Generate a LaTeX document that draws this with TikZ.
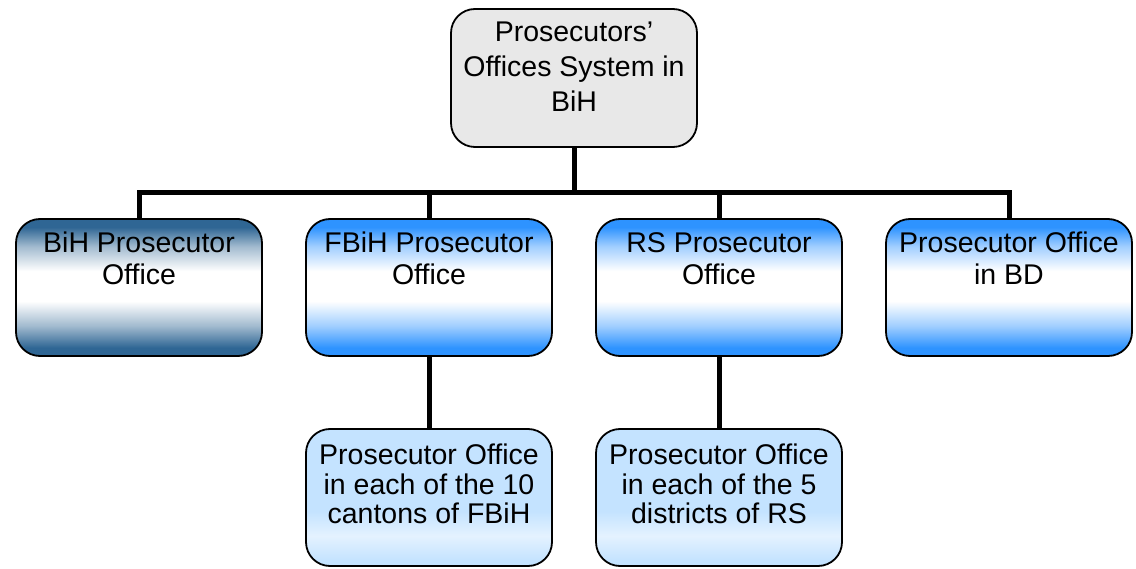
\documentclass[tikz,border=0pt]{standalone}
\usepackage{fontspec}
\setmainfont{Liberation Sans}
\usetikzlibrary{calc}
\definecolor{steel}{HTML}{2F6694}
\definecolor{bblue}{HTML}{2E93FF}
\definecolor{pale}{HTML}{C4E3FF}
\definecolor{palemid}{HTML}{E4F2FF}
\definecolor{topgray}{HTML}{E8E8E8}
\pgfdeclareverticalshading{steelshade}{100bp}{color(0bp)=(steel); color(28bp)=(steel); color(36bp)=(steel!45!white); color(45bp)=(white); color(56bp)=(white); color(65bp)=(steel!45!white); color(72bp)=(steel); color(100bp)=(steel)}
\pgfdeclareverticalshading{blueshade}{100bp}{color(0bp)=(bblue); color(28bp)=(bblue); color(36bp)=(bblue!45!white); color(45bp)=(white); color(56bp)=(white); color(65bp)=(bblue!45!white); color(72bp)=(bblue); color(100bp)=(bblue)}
\pgfdeclareverticalshading{paleshade}{100bp}{color(0bp)=(pale); color(27bp)=(pale); color(36bp)=(palemid); color(45bp)=(pale); color(73bp)=(pale); color(100bp)=(pale)}
\tikzset{
  box/.style={draw=black, line width=1.8pt, rounded corners=24pt, minimum width=246pt, minimum height=137pt, inner sep=0pt},
  conn/.style={line width=5pt},
  toptxt/.style={font=\fontsize{28.5}{35}\selectfont, align=center, anchor=north, inner sep=0pt},
  rowtxt/.style={font=\fontsize{28.5}{32}\selectfont, align=center, anchor=north, inner sep=0pt},
  bottxt/.style={font=\fontsize{28.5}{29.5}\selectfont, align=center, anchor=north, inner sep=0pt},
}
\begin{document}
\begin{tikzpicture}[x=1pt,y=-1pt]
\useasboundingbox (0,0) rectangle (1136,569);
\node[box, fill=topgray, minimum height=138pt] (top) at (574,78) {};
\node[box, shading=steelshade] (b1) at (139,287.5) {};
\node[box, shading=blueshade] (b2) at (429,287.5) {};
\node[box, shading=blueshade] (b3) at (719,287.5) {};
\node[box, shading=blueshade] (b4) at (1009,287.5) {};
\node[box, shading=paleshade] (c2) at (429,497.5) {};
\node[box, shading=paleshade] (c3) at (719,497.5) {};
\node[toptxt] (ttop) at ($(top.north)+(0,14)$) {Prosecutors’\\Offices System in\\BiH};
\node[rowtxt] (t1) at ($(b1.north)+(0,14)$) {BiH Prosecutor\\Office};
\node[rowtxt] (t2) at ($(b2.north)+(0,14)$) {FBiH Prosecutor\\Office};
\node[rowtxt] (t3) at ($(b3.north)+(0,14)$) {RS Prosecutor\\Office};
\node[rowtxt] (t4) at ($(b4.north)+(0,14)$) {Prosecutor Office\\in BD};
\node[bottxt] (u2) at ($(c2.north)+(0,16)$) {Prosecutor Office\\in each of the 10\\cantons of FBiH};
\node[bottxt] (u3) at ($(c3.north)+(0,16)$) {Prosecutor Office\\in each of the 5\\districts of RS};
\coordinate (bar) at (574,193);
\draw[conn] (top.south) -- (bar) -| (b1.north);
\draw[conn] (bar) -| (b2.north);
\draw[conn] (bar) -| (b3.north);
\draw[conn] (bar) -| (b4.north);
\draw[conn] (b2.south) -- (c2.north);
\draw[conn] (b3.south) -- (c3.north);
\end{tikzpicture}
\end{document}
